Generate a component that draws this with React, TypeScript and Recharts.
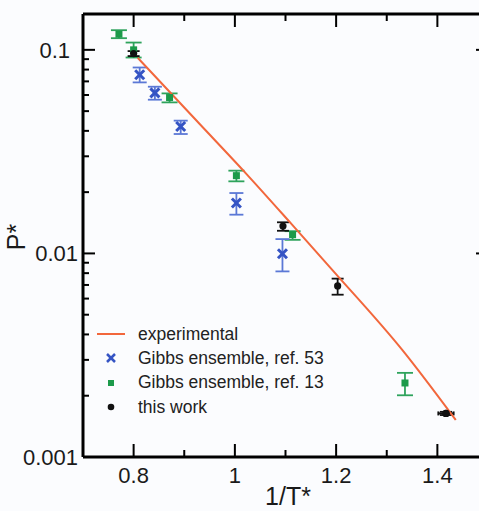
import React from 'react';
import { ScatterChart, Scatter, XAxis, YAxis, ErrorBar, ReferenceLine, Legend } from 'recharts';

// experimental curve
const expX = [0.808, 0.9305, 1.0226, 1.1112, 1.1932, 1.331, 1.4363];
const expY = [0.0914, 0.0432, 0.0246, 0.0140, 0.00826, 0.00335, 0.00152];

// Gibbs ensemble, ref. 53
const g53X = [0.812, 0.842, 0.893, 1.003, 1.094];
const g53Y = [0.0754, 0.0615, 0.042, 0.0177, 0.00996];
const g53Err = [[0.0062, 0.0065], [0.0046, 0.0044], [0.0034, 0.0029], [0.0022, 0.0021], [0.0018, 0.0018]];

// Gibbs ensemble, ref. 13
const g13X = [0.771, 0.8, 0.871, 1.003, 1.114, 1.336];
const g13Y = [0.1194, 0.1, 0.0583, 0.0241, 0.01236, 0.00231];
const g13Err = [[0.0053, 0.0055], [0.0083, 0.0086], [0.0031, 0.0028], [0.0015, 0.0014], [0.0007, 0.0005], [0.0003, 0.00028]];

// this work
const twX = [0.8, 1.095, 1.203, 1.417];
const twY = [0.0959, 0.01362, 0.00692, 0.001637];
const twYErr = [[0.0027, 0.0027], [0.0007, 0.0006], [0.00065, 0.0006], [0.00003, 0.00003]];
const twXErr = [0, 0, 0, 0.015];

const seriesNames = ['experimental', 'Gibbs ensemble, ref. 53', 'Gibbs ensemble, ref. 13', 'this work'];

const xTicks = [0.8, 0.9, 1, 1.1, 1.2, 1.3, 1.4];
const xTickLabels = ['0.8', '', '1', '', '1.2', '', '1.4'];
const yTicks = [0.001, 0.002, 0.003, 0.004, 0.005, 0.006, 0.007, 0.008, 0.009,
  0.01, 0.02, 0.03, 0.04, 0.05, 0.06, 0.07, 0.08, 0.09, 0.1];
const yTickLabels = ['0.001', '', '', '', '', '', '', '', '', '0.01', '', '', '', '', '', '', '', '', '0.1'];

const PL = 83, PR = 488, PT = 14, PB = 457;
const FONT = '"Liberation Sans", Arial, Helvetica, sans-serif';
const ORANGE = '#f2673c';
const BLUE = '#3554c4';
const BLUE_ERR = '#5b78d6';
const GREEN = '#1c9a4a';
const GREEN_ERR = '#2ea35c';
const BLACK = '#111111';

const expData = expX.map((x, i) => ({ x, y: expY[i] }));
const g53Data = g53X.map((x, i) => ({ x, y: g53Y[i], err: g53Err[i] }));
const g13Data = g13X.map((x, i) => ({ x, y: g13Y[i], err: g13Err[i] }));
const twData = twX.map((x, i) => ({ x, y: twY[i], err: twYErr[i], xerr: twXErr[i] }));
const twXErrData = twData.filter((d) => d.xerr > 0);

const XTick = (props: any) => {
  const { x, payload } = props;
  const idx = xTicks.indexOf(payload.value);
  const label = idx >= 0 ? xTickLabels[idx] : '';
  const len = label ? 13 : 7;
  return (
    <g>
      <line x1={x} x2={x} y1={PB} y2={PB - len} stroke="#000" strokeWidth={2} />
      <line x1={x} x2={x} y1={PT} y2={PT + len} stroke="#000" strokeWidth={2} />
      {label ? (
        <text x={x} y={483} textAnchor="middle" fontSize={22} fontFamily={FONT} fill="#1a1a1a">{label}</text>
      ) : null}
    </g>
  );
};

const YTick = (props: any) => {
  const { y, payload } = props;
  const idx = yTicks.indexOf(payload.value);
  const label = idx >= 0 ? yTickLabels[idx] : '';
  const len = label ? 12 : 6;
  const labelRight = label === '0.1' ? 70 : 78;
  return (
    <g>
      <line x1={PL} x2={PL + len} y1={y} y2={y} stroke="#000" strokeWidth={2} />
      <line x1={PR} x2={PR - len} y1={y} y2={y} stroke="#000" strokeWidth={2} />
      {label ? (
        <text x={labelRight} y={y + 8} textAnchor="end" fontSize={22} fontFamily={FONT} fill="#1a1a1a">{label}</text>
      ) : null}
    </g>
  );
};

const XMark = (props: any) => {
  const { cx, cy } = props;
  const s = 4.5;
  return (
    <g>
      <line x1={cx - s} y1={cy - s} x2={cx + s} y2={cy + s} stroke={BLUE} strokeWidth={3} />
      <line x1={cx - s} y1={cy + s} x2={cx + s} y2={cy - s} stroke={BLUE} strokeWidth={3} />
    </g>
  );
};
const SquareMark = (props: any) => {
  const { cx, cy } = props;
  return <rect x={cx - 3.5} y={cy - 3.5} width={7} height={7} fill={GREEN} />;
};
const DotMark = (props: any) => {
  const { cx, cy } = props;
  return <circle cx={cx} cy={cy} r={3.6} fill={BLACK} />;
};
const NoMark = () => <g />;

const LegendIcon = ({ i }: { i: number }) => (
  <svg width={32} height={24}>
    {i === 0 ? <line x1={2} x2={30} y1={12} y2={12} stroke={ORANGE} strokeWidth={2} /> : null}
    {i === 1 ? (
      <g>
        <line x1={12} y1={8} x2={20} y2={16} stroke={BLUE} strokeWidth={2.5} />
        <line x1={12} y1={16} x2={20} y2={8} stroke={BLUE} strokeWidth={2.5} />
      </g>
    ) : null}
    {i === 2 ? <rect x={13} y={9} width={6} height={6} fill={GREEN} /> : null}
    {i === 3 ? <circle cx={16} cy={12} r={3.3} fill={BLACK} /> : null}
  </svg>
);

const LegendBox = () => (
  <div style={{ fontFamily: FONT, fontSize: 17.5, color: '#222' }}>
    {seriesNames.map((name, i) => (
      <div key={name} style={{ display: 'flex', alignItems: 'center', height: 24.3 }}>
        <LegendIcon i={i} />
        <span style={{ marginLeft: 11, whiteSpace: 'nowrap' }}>{name}</span>
      </div>
    ))}
  </div>
);

const XTitle = () => (
  <text x={288} y={505} textAnchor="middle" fontSize={25} fontFamily={FONT} fill="#1a1a1a">1/T*</text>
);
const YTitle = () => (
  <text x={25} y={237} transform="rotate(-90, 25, 237)" textAnchor="middle" fontSize={25} fontFamily={FONT} fill="#1a1a1a">P*</text>
);

export default function App() {
  return (
    <div style={{ position: 'absolute', left: 0, top: 0, width: 479, height: 511, overflow: 'hidden', background: '#fbfcfe' }}>
      <ScatterChart width={495} height={511} margin={{ top: 14, right: 7, bottom: 0, left: 0 }}>
        <XAxis
          type="number"
          dataKey="x"
          domain={[0.7, 1.5]}
          ticks={xTicks}
          interval={0}
          height={54}
          tickLine={false}
          tick={<XTick />}
          axisLine={{ stroke: '#000', strokeWidth: 3 }}
          allowDataOverflow
          label={<XTitle />}
        />
        <YAxis
          type="number"
          dataKey="y"
          scale="log"
          domain={[0.001, 0.15]}
          ticks={yTicks}
          interval={0}
          width={83}
          tickLine={false}
          tick={<YTick />}
          axisLine={{ stroke: '#000', strokeWidth: 3 }}
          allowDataOverflow
          label={<YTitle />}
        />
        <ReferenceLine y={0.15} stroke="#000" strokeWidth={3} ifOverflow="visible" />
        <ReferenceLine x={1.5} stroke="#000" strokeWidth={3} ifOverflow="visible" />
        <Scatter
          name={seriesNames[0]}
          data={expData}
          line={{ stroke: ORANGE, strokeWidth: 2 }}
          lineJointType="monotoneX"
          shape={<NoMark />}
          isAnimationActive={false}
        />
        <Scatter name={seriesNames[2]} data={g13Data} shape={<SquareMark />} isAnimationActive={false}>
          <ErrorBar dataKey="err" direction="y" width={8} stroke={GREEN_ERR} strokeWidth={1.8} isAnimationActive={false} />
        </Scatter>
        <Scatter name={seriesNames[1]} data={g53Data} shape={<XMark />} isAnimationActive={false}>
          <ErrorBar dataKey="err" direction="y" width={7} stroke={BLUE_ERR} strokeWidth={1.8} isAnimationActive={false} />
        </Scatter>
        <Scatter name={seriesNames[3]} data={twData} shape={<DotMark />} isAnimationActive={false}>
          <ErrorBar dataKey="err" direction="y" width={6} stroke={BLACK} strokeWidth={1.8} isAnimationActive={false} />
        </Scatter>
        <Scatter name="this work x-error" data={twXErrData} shape={<DotMark />} isAnimationActive={false}>
          <ErrorBar dataKey="xerr" direction="x" width={2} stroke={BLACK} strokeWidth={2} isAnimationActive={false} />
        </Scatter>
        <Legend
          layout="vertical"
          verticalAlign="middle"
          align="center"
          content={<LegendBox />}
          wrapperStyle={{ left: 95, top: 322, width: 'auto', height: 'auto' }}
        />
      </ScatterChart>
    </div>
  );
}
